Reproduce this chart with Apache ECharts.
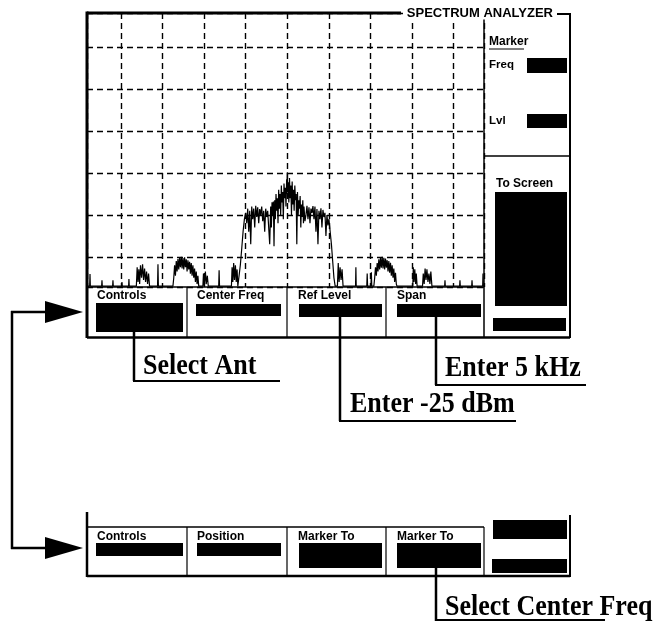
<!DOCTYPE html>
<html><head><meta charset="utf-8">
<script src="https://cdn.jsdelivr.net/npm/echarts@6/dist/echarts.min.js"></script>
<style>html,body{margin:0;padding:0;background:#fff}#c{width:661px;height:624px}</style>
</head><body><div id="c"></div>
<script>
// Spectrum trace: [frequency offset from centre (Hz), level (dBm)]
const leftSidebandTrace = [
  [-2410,-87],[-2376,-87],[-2372,-84.1],[-2368,-87],[-2232,-87],[-2228,-85.6],[-2224,-87],
  [-2100,-87],[-2096,-85.6],[-2092,-87],[-1992,-87],[-1988,-86],[-1984,-87],
  [-1908,-87],[-1904,-85.3],[-1900,-87],
  [-1815,-87],[-1805,-82.5],[-1795,-86],[-1785,-83],[-1775,-86.5],[-1765,-82],[-1752,-85],[-1740,-81.8],
  [-1728,-85.5],[-1716,-82.8],[-1704,-86],[-1692,-83.5],[-1680,-86.5],[-1668,-84],[-1656,-87],
  [-1560,-87],[-1555,-81.8],[-1550,-87],
  [-1375,-87],[-1365,-85],[-1355,-82],[-1345,-84.5],[-1335,-81],[-1325,-83.5],[-1315,-80.5],[-1305,-83],
  [-1295,-80.2],[-1285,-82.5],[-1275,-80],[-1265,-82.8],[-1255,-80.3],[-1245,-83],[-1235,-80.1],[-1225,-82.5],
  [-1215,-80.6],[-1205,-83.5],[-1195,-80.8],[-1185,-83],[-1175,-81.2],[-1165,-84],[-1155,-81.5],[-1145,-84.5],
  [-1135,-82],[-1125,-85],[-1115,-82.8],[-1105,-86],[-1095,-83.5],[-1085,-86.5],[-1075,-84.5],[-1065,-87],
  [-1015,-87],[-1008,-84],[-998,-87],[-985,-83.5],[-975,-86.5],[-962,-84.5],[-950,-87],
  [-825,-87],[-820,-83.2],[-815,-87],
  [-672,-87],[-664,-82.5],[-655,-86],[-645,-81.5],[-635,-85.5],[-624,-82],[-614,-86],[-604,-83],[-595,-87]
];
const mainLobeTrace = [
  [-585,-87],[-565,-82],[-548,-78],[-532,-74],[-516,-71],[-500,-69.5],[-488,-72],[-476,-68.5],[-464,-74],
  [-452,-69],[-440,-77],[-428,-68],[-416,-71],[-404,-68.5],[-392,-73],[-380,-67.8],[-368,-70.5],[-356,-68.2],
  [-344,-72],[-332,-68.6],[-320,-70],[-308,-68],[-296,-71.5],[-284,-69],[-272,-74],[-260,-68.5],[-248,-70.5],
  [-236,-69],[-224,-73],[-212,-77],
  [-200,-68],[-192,-73],[-184,-67],[-176,-70],[-168,-66.8],[-160,-77.5],[-152,-66.5],[-144,-71],[-136,-65],
  [-128,-69],[-120,-66],[-112,-72],[-104,-64],[-96,-68.5],[-88,-65],[-80,-70],[-72,-63],[-64,-67],[-56,-64.5],
  [-48,-71],[-40,-62.5],[-32,-66],[-24,-63.5],[-16,-68],[-8,-61.5],[-4,-65],[0,-59.8],[4,-64.5],[10,-62.2],
  [18,-67],[26,-61.2],[34,-66],[42,-63],[50,-70],[58,-62],[66,-67.5],[74,-64],[82,-69],[90,-63],[98,-66.5],
  [106,-65],[114,-77],[122,-64.5],[130,-70],[138,-66.5],[146,-68.5],[154,-65.5],[162,-73],[170,-67.5],
  [178,-70.5],[186,-66.5],[194,-72],
  [200,-68],[212,-71.5],
  [224,-70],[236,-67.8],[248,-71],[260,-68.2],[272,-72],[284,-68.5],[296,-69.5],[308,-67.9],[320,-71],[332,-68],
  [344,-74],[356,-68.6],[368,-77],[380,-69],[392,-71],[404,-68.4],[416,-73],[428,-68.8],[440,-70.5],[452,-69.5],
  [464,-75],[476,-70],[488,-72.5],[500,-71],[515,-74],[530,-77],[545,-81],[560,-85],[575,-87]
];
const rightSidebandTrace = [
  [590,-87],[602,-87],[612,-81.5],[622,-86],[634,-82.5],[646,-85.5],[658,-83],[670,-87],
  [820,-87],[824,-82.5],[828,-87],[955,-87],[960,-84],[965,-87],[1005,-87],[1010,-83.7],[1015,-87],
  [1040,-87],[1050,-85],[1060,-82.5],[1070,-84.5],[1080,-81.5],[1090,-83.5],[1100,-80.6],[1110,-83],
  [1120,-80.3],[1130,-82.6],[1140,-80],[1150,-82.8],[1160,-80.2],[1170,-83],[1180,-80.4],[1190,-82.6],
  [1200,-80.8],[1210,-83.5],[1220,-81],[1230,-83.8],[1240,-81.4],[1250,-84.5],[1260,-82],[1270,-85],
  [1280,-82.8],[1290,-86],[1300,-83.8],[1310,-86.5],[1318,-87],
  [1508,-87],[1514,-82.5],[1522,-86],[1532,-83],[1542,-86.5],[1550,-84],[1560,-87],
  [1625,-87],[1634,-84],[1645,-86.5],[1656,-82.8],[1667,-85.5],[1678,-83],[1690,-86],[1702,-84],[1714,-86.5],
  [1725,-83.5],[1738,-87],
  [1891,-87],[1895,-85.6],[1899,-87],[2071,-87],[2075,-85.6],[2079,-87],[2216,-87],[2220,-85.6],[2224,-87],
  [2348,-87],[2352,-84],[2356,-87],[2370,-87]
];
const freqAxisRange = [-2408, 2364];   // Hz, 500 Hz / div
const levelAxisRange = [-87.2, -21.8]; // dBm, 10 dB / div
const titleText = 'SPECTRUM ANALYZER';
const topSoftKeys = ['Controls', 'Center Freq', 'Ref Level', 'Span'];
const bottomSoftKeys = ['Controls', 'Position', 'Marker To', 'Marker To'];
const markerLabels = ['Marker', 'Freq', 'Lvl', 'To Screen'];
const annotations = ['Select Ant', 'Enter -25 dBm', 'Enter 5 kHz', 'Select Center Freq'];

const SANS = 'Liberation Sans, Arial, sans-serif';
const SERIF = 'Liberation Serif, Times New Roman, serif';
const g = [];
function L(x1,y1,x2,y2,w){ g.push({type:'line',z:100,shape:{x1,y1,x2,y2},style:{stroke:'#000',lineWidth:w||1.5}}); }
function R(x,y,w,h){ g.push({type:'rect',z:100,shape:{x,y,width:w,height:h},style:{fill:'#000'}}); }
function T(text,x,y,font,extra,sy){ g.push({type:'text',z:101,x,y,scaleY:sy||1,style:Object.assign({text,font,fill:'#000',align:'left',verticalAlign:'middle'},extra||{})}); }
function P(points){ g.push({type:'polygon',z:100,shape:{points},style:{fill:'#000'}}); }

// main screen frame
L(87,13,401,13,3); L(87,11.5,87,338,3); L(557,14,570,14,2); L(570,13,570,338,2);
L(87,337.5,570,337.5,2.5); L(484,14,484,337,1.5); L(484,156,570,156,1.5);
T(titleText,555,13,'bold 13px '+SANS,{align:'right',backgroundColor:'#fff',padding:[0,2]});
// marker panel
T(markerLabels[0],489,42,'bold 12px '+SANS); L(489,49,524,49,1.2);
T(markerLabels[1],489,65,'bold 11.5px '+SANS); R(527,58,40,15);
T(markerLabels[2],489,121,'bold 11.5px '+SANS); R(527,114,40,14);
T(markerLabels[3],496,184,'bold 12px '+SANS); R(495,192,72,114); R(493,318,73,13);
// top soft keys
L(87,287,484,287,1.5);
[187,287,386].forEach(x=>L(x,287,x,337,1.2));
const keyX=[97,197,298,397];
topSoftKeys.forEach((k,i)=>T(k,keyX[i],296,'bold 12px '+SANS));
R(96,303,87,29); R(196,304,85,12); R(299,304,83,13); R(397,304,84,13);
// annotation leaders
L(134,330,134,381,2.5); L(133,381,280,381,2);
L(340,315,340,421,2.5); L(339,421,516,421,2);
L(436,315,436,385,2.5); L(435,385,586,385,2);
T(annotations[0],143,366.5,'bold 26px '+SERIF,null,1.12);
T(annotations[1],350,404,'bold 26px '+SERIF,null,1.12);
T(annotations[2],445,368,'bold 26px '+SERIF,null,1.12);
// loop arrow
L(12,311,12,549,2.5); L(11,312,48,312,2.5); L(11,548,48,548,2.5);
P([[45,301],[83,312],[45,323]]); P([[45,537],[83,548],[45,559]]);
// bottom soft key panel
L(87,512,87,577,2.5); L(87,527,484,527,1.5); L(87,576,570,576,2.5); L(570,515,570,577,2);
[187,287,386,484].forEach(x=>L(x,527,x,576,1.2));
bottomSoftKeys.forEach((k,i)=>T(k,keyX[i],537,'bold 12px '+SANS));
R(96,543,87,13); R(197,543,84,13); R(299,543,83,25); R(397,543,84,25);
R(493,520,74,19); R(492,559,75,14);
L(436,566,436,621,2.5); L(435,620,605,620,2);
T(annotations[3],445,607,'bold 26px '+SERIF,null,1.12);

const chart = echarts.init(document.getElementById('c'), null, {renderer:'canvas'});
chart.setOption({
  animation:false,
  backgroundColor:'#fff',
  grid:{left:87, top:13, width:397, height:274, containLabel:false},
  xAxis:{type:'value', min:freqAxisRange[0], max:freqAxisRange[1], minInterval:500, maxInterval:500, splitNumber:10,
    axisLine:{show:false}, axisTick:{show:false}, axisLabel:{show:false},
    splitLine:{show:true, lineStyle:{color:'#000', width:1.4, type:[6,4]}}},
  yAxis:{type:'value', min:levelAxisRange[0], max:levelAxisRange[1], minInterval:10, maxInterval:10, splitNumber:7,
    axisLine:{show:false}, axisTick:{show:false}, axisLabel:{show:false},
    splitLine:{show:true, lineStyle:{color:'#000', width:1.4, type:[6,4]}}},
  series:[{type:'line', data:leftSidebandTrace.concat(mainLobeTrace, rightSidebandTrace),
    showSymbol:false, symbol:'none', clip:true, lineStyle:{color:'#000', width:1.2}, z:5}],
  graphic:g
});
</script></body></html>
